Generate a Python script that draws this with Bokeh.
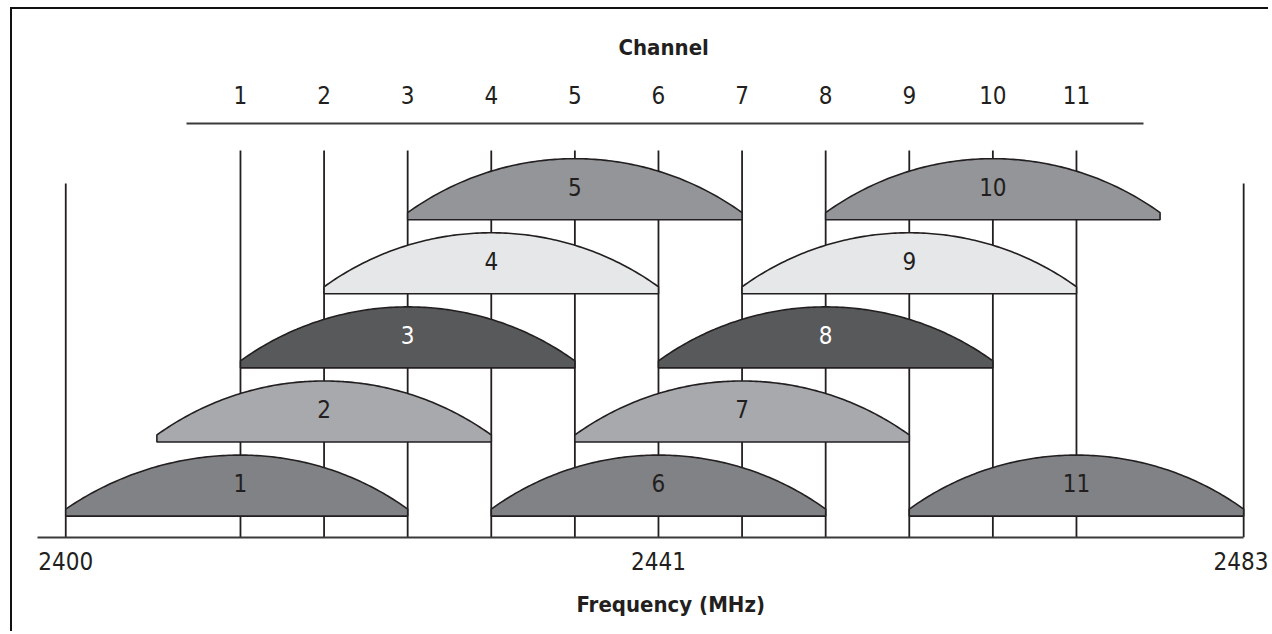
import numpy as np
from bokeh.plotting import figure
from bokeh.models import Range1d, LinearAxis, FixedTicker, Title, ColumnDataSource
from bokeh.core.properties import value
from bokeh.embed import file_html
from bokeh.resources import INLINE

# ---------------- data ----------------
channels = [1, 2, 3, 4, 5, 6, 7, 8, 9, 10, 11]
hump_row = [0, 1, 2, 3, 4, 0, 1, 2, 3, 4, 0]          # stacking level of each channel's hump
hump_left = [-1.09, 0, 1, 2, 3, 4, 5, 6, 7, 8, 9]       # left edge (channel units)
hump_right = [3, 4, 5, 6, 7, 8, 9, 10, 11, 12, 13]      # right edge (channel units)
freq_labels = ["2400", "2441", "2483"]
freq_pos = [-1.09, 6, 13]

# ---------------- styles ----------------
row_colors = ["#808285", "#a7a9ac", "#58595b", "#e6e7e8", "#939598"]
row_text = ["#231f20", "#231f20", "#ffffff", "#231f20", "#231f20"]
INK = "#231f20"
FONT = "DejaVu Sans Condensed"
PX_X = 83.6   # pixels per channel
PX_Y = 74.1   # pixels per row level
EDGE = 7 / PX_Y
HEIGHT = 61 / PX_Y

X0, X1 = -1.727, 13.321
Y0, Y1 = -0.289, 5.298


def hump_shape(c, l, r, base):
    xs, ys = [l, l], [base, base + EDGE]
    s = (HEIGHT - EDGE) * PX_Y
    for a_units, sign in ((c - l, -1), (r - c, 1)):
        a = a_units * PX_X
        R = (a * a + s * s) / (2 * s)
        d = np.linspace(a, 0, 60) if sign < 0 else np.linspace(0, a, 60)
        yy = np.sqrt(R * R - d * d) - (R - s)
        xs += list(c + sign * d / PX_X)
        ys += list(base + EDGE + yy / PX_Y)
    xs += [r, r]
    ys += [base + EDGE, base]
    return xs, ys


p = figure(width=1258, height=624, x_range=Range1d(X0, X1), y_range=Range1d(Y0, Y1),
           x_axis_location=None, y_axis_location=None, toolbar_location=None,
           output_backend="svg", title_location=None,
           min_border_left=0, min_border_right=0, min_border_top=114, min_border_bottom=96)
p.grid.visible = False
p.outline_line_color = None
p.background_fill_color = "white"
p.border_fill_color = "white"
p.styles = {"border-top": "2px solid #111111", "border-left": "2px solid #111111",
            "margin-top": "7px", "margin-left": "10px"}

# vertical channel lines
p.segment(x0=channels, x1=channels, y0=[Y0] * len(channels), y1=[4.934] * len(channels),
          line_color=INK, line_width=1.8)
# band edge lines (2400 / 2483)
edges = [freq_pos[0], freq_pos[-1]]
p.segment(x0=edges, x1=edges, y0=[Y0] * 2, y1=[4.489] * 2, line_color=INK, line_width=1.8)

# humps
hx, hy, hc = [], [], []
for c, row, l, r in zip(channels, hump_row, hump_left, hump_right):
    xs, ys = hump_shape(c, l, r, row)
    hx.append(xs)
    hy.append(ys)
    hc.append(row_colors[row])
p.patches(xs=hx, ys=hy, fill_color=hc, line_color=INK, line_width=1.6)

src = ColumnDataSource(dict(x=channels, y=[r + 0.445 for r in hump_row],
                            t=[str(c) for c in channels],
                            col=[row_text[r] for r in hump_row]))
p.text(x="x", y="y", text="t", source=src, text_color="col", text_align="center",
       text_baseline="middle", text_font=value(FONT), text_font_size="24px")

# top channel axis
ax_top = LinearAxis(ticker=FixedTicker(ticks=channels), bounds=(0.354, 11.80))
ax_top.major_tick_out = 0
ax_top.major_tick_in = 0
ax_top.minor_tick_out = 0
ax_top.minor_tick_in = 0
ax_top.axis_line_width = 2
ax_top.axis_line_color = "#3a3a3a"
ax_top.major_label_text_font = FONT
ax_top.major_label_text_font_size = "24px"
ax_top.major_label_text_color = INK
ax_top.major_label_standoff = 20
p.add_layout(ax_top, "above")

t_top = Title(text="Channel", align="left", offset=606, text_font=FONT,
              text_font_size="22px", text_font_style="bold", text_color=INK, standoff=46)
p.add_layout(t_top, "above")

# bottom frequency axis
ax_bot = LinearAxis(ticker=FixedTicker(ticks=freq_pos), bounds=(-1.428, 13.0))
ax_bot.major_label_overrides = {fp: lab for fp, lab in zip(freq_pos, freq_labels)}
ax_bot.major_tick_out = 0
ax_bot.major_tick_in = 0
ax_bot.minor_tick_out = 0
ax_bot.minor_tick_in = 0
ax_bot.axis_line_width = 2
ax_bot.axis_line_color = "#3a3a3a"
ax_bot.major_label_text_font = FONT
ax_bot.major_label_text_font_size = "24px"
ax_bot.major_label_text_color = INK
ax_bot.major_label_standoff = 14
p.add_layout(ax_bot, "below")

t_bot = Title(text="Frequency (MHz)", align="left", offset=564, text_font=FONT,
              text_font_size="22px", text_font_style="bold", text_color=INK, standoff=34)
p.add_layout(t_bot, "below")

open("out.html", "w").write(file_html(p, INLINE))
